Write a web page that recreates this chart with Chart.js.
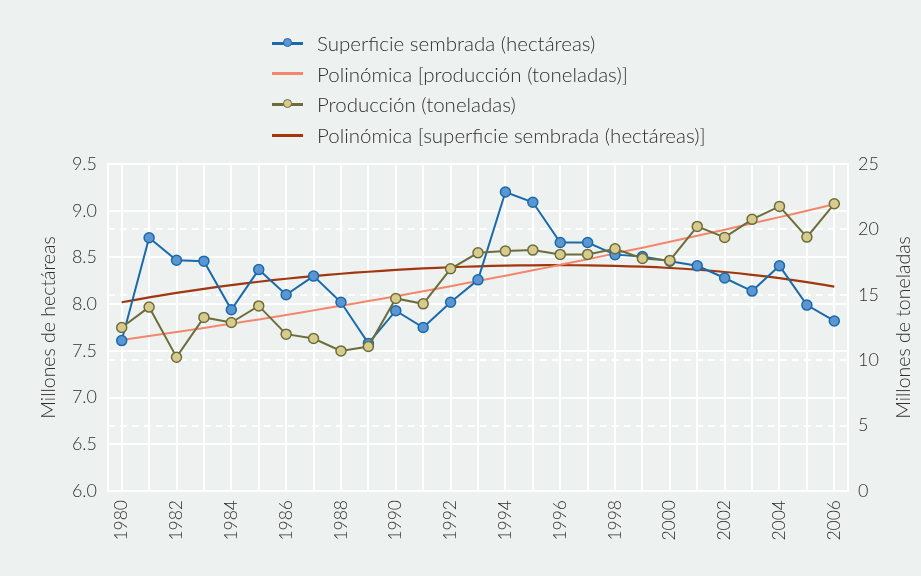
<!DOCTYPE html>
<html lang="es">
<head>
    <meta charset="UTF-8">
    <title>Superficie sembrada y producción</title>
    <script src="https://cdn.jsdelivr.net/npm/chart.js"></script>
    <style>
        body {
            margin: 0;
            background: #edf2f0;
            font-family: Lato, sans-serif;
        }
        .wrap {
            position: relative;
            width: 921px;
            height: 576px;
        }
        #chart {
            position: absolute;
            left: 0;
            top: 0;
        }
        #legend {
            position: absolute;
            left: 272px;
            top: 28px;
            color: #2f2f2f;
            font-size: 20.5px;
            font-weight: 300;
        }
        .row {
            height: 30.6px;
            display: flex;
            align-items: center;
        }
        .sw {
            position: relative;
            width: 31px;
            height: 3px;
            margin-right: 14px;
        }
        .dot {
            position: absolute;
            left: 11px;
            top: -4px;
            width: 7px;
            height: 7px;
            border-radius: 50%;
            border: 1.5px solid;
        }
    </style>
</head>
<body>
<div class="wrap">
    <canvas id="chart" width="921" height="576"></canvas>
    <div id="legend"></div>
</div>
<script>
    const years = ["1980", "1981", "1982", "1983", "1984", "1985", "1986", "1987", "1988", "1989",
        "1990", "1991", "1992", "1993", "1994", "1995", "1996", "1997", "1998", "1999",
        "2000", "2001", "2002", "2003", "2004", "2005", "2006"];

    // millones de hectáreas (eje izquierdo)
    const superficie = [7.61, 8.71, 8.47, 8.46, 7.94, 8.37, 8.10, 8.30, 8.02, 7.58,
        7.93, 7.75, 8.02, 8.26, 9.20, 9.09, 8.66, 8.66, 8.53, 8.51,
        8.46, 8.41, 8.28, 8.14, 8.41, 7.99, 7.82];
    const superficieTrend = [8.020, 8.072, 8.120, 8.164, 8.204, 8.240, 8.272, 8.300, 8.325, 8.347,
        8.366, 8.382, 8.395, 8.405, 8.412, 8.416, 8.417, 8.415, 8.410, 8.401,
        8.387, 8.368, 8.344, 8.314, 8.278, 8.236, 8.188];

    // millones de toneladas (eje derecho)
    const produccion = [12.50, 14.06, 10.23, 13.27, 12.88, 14.15, 11.99, 11.66, 10.71, 11.05,
        14.72, 14.31, 16.99, 18.21, 18.34, 18.42, 18.09, 18.09, 18.52, 17.78,
        17.63, 20.23, 19.39, 20.77, 21.76, 19.41, 21.96];
    const produccionTrend = [11.55, 11.85, 12.16, 12.47, 12.79, 13.12, 13.46, 13.81, 14.16, 14.52,
        14.89, 15.27, 15.66, 16.06, 16.46, 16.87, 17.29, 17.72, 18.16, 18.60,
        19.05, 19.51, 19.98, 20.46, 20.94, 21.43, 21.93];

    const leftTicks = [6.0, 6.5, 7.0, 7.5, 8.0, 8.5, 9.0, 9.5];
    const rightTicks = [0, 5, 10, 15, 20, 25];

    const textColor = "#2f2f2f";
    const white = "#ffffff";

    const datasets = [
        {
            label: "Superficie sembrada (hectáreas)",
            data: superficie,
            yAxisID: "y",
            borderColor: "#1a6aab",
            backgroundColor: "#5b96d3",
            pointBackgroundColor: "#5b96d3",
            pointBorderColor: "#1a6aab",
            borderWidth: 2,
            pointRadius: 5,
            pointBorderWidth: 1.5,
            order: 1
        },
        {
            label: "Polinómica [producción (toneladas)]",
            data: produccionTrend,
            yAxisID: "y1",
            borderColor: "#f4866c",
            borderWidth: 2,
            pointRadius: 0,
            tension: 0.4,
            order: 2
        },
        {
            label: "Producción (toneladas)",
            data: produccion,
            yAxisID: "y1",
            borderColor: "#6d6d3b",
            backgroundColor: "#d8cb8e",
            pointBackgroundColor: "#d8cb8e",
            pointBorderColor: "#6d6d3b",
            borderWidth: 2,
            pointRadius: 5,
            pointBorderWidth: 1.5,
            order: 0
        },
        {
            label: "Polinómica [superficie sembrada (hectáreas)]",
            data: superficieTrend,
            yAxisID: "y",
            borderColor: "#a2360e",
            borderWidth: 2.2,
            pointRadius: 0,
            tension: 0.4,
            order: 3
        }
    ];

    // right axis title, reads bottom to top like the left one
    const rightTitle = {
        id: "rightTitle",
        afterDraw(chart) {
            const { ctx, chartArea } = chart;
            ctx.save();
            ctx.translate(904, (chartArea.top + chartArea.bottom) / 2);
            ctx.rotate(-Math.PI / 2);
            ctx.fillStyle = textColor;
            ctx.font = "300 19.5px Lato";
            ctx.textAlign = "center";
            ctx.textBaseline = "middle";
            ctx.fillText("Millones de toneladas", 0, 0);
            ctx.restore();
        }
    };

    const tickFont = { family: "Lato", size: 18, weight: 300 };

    const chart = new Chart(document.getElementById("chart"), {
        type: "line",
        data: { labels: years, datasets: datasets },
        plugins: [rightTitle],
        options: {
            responsive: false,
            animation: false,
            devicePixelRatio: 1,
            layout: { padding: { top: 164, left: 0, right: 0, bottom: 0 } },
            plugins: {
                legend: { display: false },
                tooltip: { enabled: false }
            },
            scales: {
                x: {
                    offset: true,
                    grid: { color: white, lineWidth: 2, drawTicks: false },
                    border: { color: white, width: 2 },
                    ticks: {
                        autoSkip: false,
                        minRotation: 90,
                        maxRotation: 90,
                        padding: 9,
                        color: textColor,
                        font: { family: "Lato", size: 17.5, weight: 300 },
                        callback: function (val, idx) {
                            return idx % 2 === 0 ? this.getLabelForValue(val) : "";
                        }
                    },
                    afterFit: (s) => { s.height = 85; }
                },
                y: {
                    position: "left",
                    min: leftTicks[0],
                    max: leftTicks[leftTicks.length - 1],
                    afterBuildTicks: (s) => { s.ticks = leftTicks.map(v => ({ value: v })); },
                    grid: { color: white, lineWidth: 2, drawTicks: false },
                    border: { color: white, width: 2 },
                    ticks: {
                        padding: 11,
                        color: textColor,
                        font: tickFont,
                        callback: (v) => v.toFixed(1)
                    },
                    title: {
                        display: true,
                        text: "Millones de hectáreas",
                        color: textColor,
                        font: { family: "Lato", size: 19.5, weight: 300 },
                        padding: { top: 37, bottom: 0 }
                    },
                    afterFit: (s) => { s.width = 108; }
                },
                y1: {
                    position: "right",
                    min: rightTicks[0],
                    max: rightTicks[rightTicks.length - 1],
                    afterBuildTicks: (s) => { s.ticks = rightTicks.map(v => ({ value: v })); },
                    grid: { color: white, lineWidth: 2, drawTicks: false },
                    border: { color: white, width: 2, dash: [7, 5] },
                    ticks: {
                        padding: 10,
                        color: textColor,
                        font: tickFont
                    },
                    afterFit: (s) => { s.width = 73; }
                }
            }
        }
    });

    // HTML legend in a single column, built from the datasets
    const legend = document.getElementById("legend");
    chart.data.datasets.forEach((ds) => {
        const row = document.createElement("div");
        row.className = "row";
        const sw = document.createElement("span");
        sw.className = "sw";
        sw.style.background = ds.borderColor;
        if (ds.pointRadius > 0) {
            const dot = document.createElement("span");
            dot.className = "dot";
            dot.style.background = ds.pointBackgroundColor;
            dot.style.borderColor = ds.pointBorderColor;
            sw.appendChild(dot);
        }
        const txt = document.createElement("span");
        txt.textContent = ds.label;
        row.appendChild(sw);
        row.appendChild(txt);
        legend.appendChild(row);
    });
</script>
</body>
</html>
